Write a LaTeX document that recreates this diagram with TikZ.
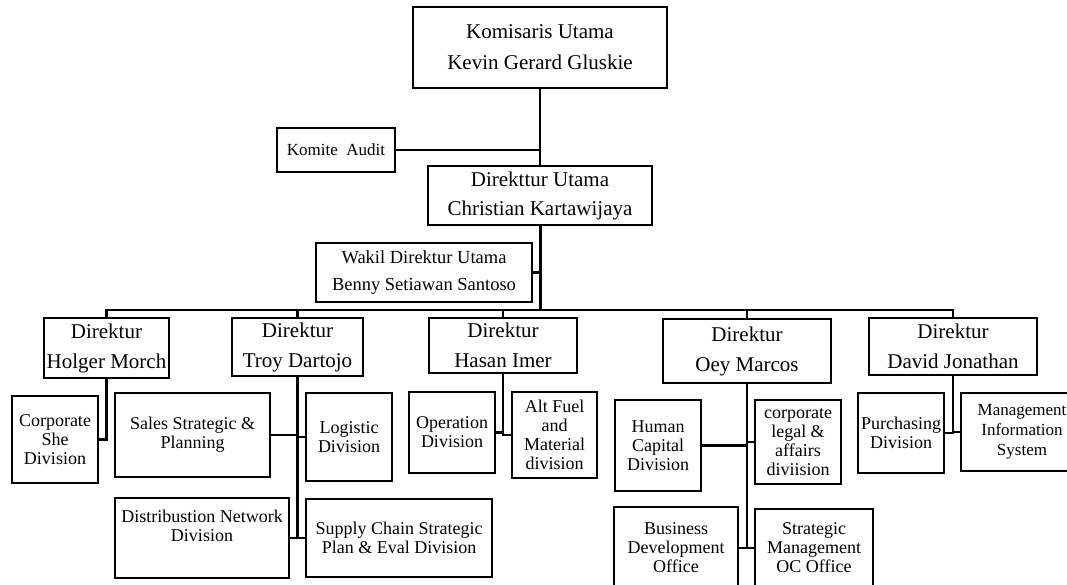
\documentclass[tikz,border=0pt]{standalone}
\usepackage{fontspec}
\setmainfont{Liberation Serif}
\usetikzlibrary{calc,positioning}
\tikzset{
    orgbox/.style 2 args={
        draw, rectangle, line width=2pt,
        minimum width=#1, minimum height=#2,
        inner sep=1pt, align=center, text=black
    }
}

\begin{document}
\begin{tikzpicture}[
      x=1pt, y=-1pt,
  bigtext/.style={font=\fontsize{21}{30}\selectfont},
  divtext/.style={font=\fontsize{18}{19}\selectfont},
  link/.style={line width=2.4pt}
      ]
\useasboundingbox (0,0) rectangle (1067,584);
\clip (0,0) rectangle (1067,584);

% board and top management
\node[orgbox={254}{81}, font=\fontsize{21}{31}\selectfont] (kom) at (540,47.5)
  {Komisaris Utama\\Kevin Gerard Gluskie};
\node[orgbox={118}{44}, font=\fontsize{17}{20}\selectfont] (audit) at (336,150)
  {Komite\ \ Audit};
\node[orgbox={224}{59}, font=\fontsize{21}{29}\selectfont] (dirut) at (540,195.5)
  {Direkttur Utama\\Christian Kartawijaya};
\node[orgbox={216}{59}, font=\fontsize{18.5}{27}\selectfont] (wakil) at (424,272.5)
  {Wakil Direktur Utama\\Benny Setiawan Santoso};
\coordinate (bus) at (540,310);

\draw[link] (kom) -- (dirut);
\draw[link] (audit.east) -- (audit.east -| kom.south);
\draw[line width=3pt] (dirut.south) -- (bus);
\draw[link] (wakil.east) -- (wakil.east -| dirut.south);

% directors
\node[orgbox={125}{60}, bigtext] (hm) at (106.5,348) {Direktur\\Holger Morch};
\node[orgbox={131}{58}, bigtext] (td) at (297.5,347) {Direktur\\Troy Dartojo};
\node[orgbox={148}{55}, bigtext] (hi) at (503,345.5) {Direktur\\Hasan Imer};
\node[orgbox={168}{64}, bigtext] (om) at (747,351) {Direktur\\Oey Marcos};
\node[orgbox={168}{57}, bigtext] (dj) at (953,346.5) {Direktur\\David Jonathan};

\draw[link] (hm.north) |- (bus) -| (dj.north);
\foreach \Dir in {td,hi,om}
  \draw[link] (\Dir.north) -- (\Dir.north |- bus);

% divisions
\node[orgbox={86}{87}, divtext] (cs) at (55,439.5) {Corporate\\She\\Division};
\draw[link] (hm.south) |- (cs.east);

\node[orgbox={155}{84}, divtext] (ss) at (192.5,435) {Sales Strategic \&\\Planning};
\node[orgbox={86}{88}, divtext] (lg) at (349,437) {Logistic\\Division};
\node[orgbox={174}{80}, divtext] (dn) at (202,538) {Distribustion Network\\Division\\\strut};
\node[orgbox={186}{78}, divtext] (sc) at (399,538) {Supply Chain Strategic\\Plan \& Eval Division};
\draw[link] (td.south) |- (sc.west);
\draw[link] (ss.east) -- (ss.east -| td.south);
\draw[link] (lg.west) -- (lg.west -| td.south);
\draw[link] (dn.east) -- (dn.east -| td.south);

\node[orgbox={86}{81}, divtext] (od) at (452,432.5) {Operation\\Division};
\node[orgbox={85}{86}, divtext] (af) at (554.5,435) {Alt Fuel\\and\\Material\\division};
\draw[link] (hi.south) |- (af.west);
\draw[link] (od.east) -- (od.east -| hi.south);

\node[orgbox={86}{91}, divtext] (hc) at (658,445.5) {Human\\Capital\\Division};
\node[orgbox={86}{84}, divtext] (cl) at (798,442) {corporate\\legal \&\\affairs\\diviision};
\node[orgbox={124}{82}, divtext] (bd) at (676,548) {Business\\Development\\Office};
\node[orgbox={118}{78}, divtext] (sm) at (814,548) {Strategic\\Management\\OC Office};
\draw[link] (om.south) |- (sm.west);
\draw[link] (hc.east) -- (hc.east -| om.south);
\draw[link] (cl.west) -- (cl.west -| om.south);
\draw[link] (bd.east) -- (bd.east -| om.south);

\node[orgbox={86}{80}, divtext] (pd) at (901,433) {Purchasing\\Division};
\node[orgbox={122}{78}, font=\fontsize{17}{20}\selectfont] (mis) at (1022,432)
  {Management\\Information\\System};
\draw[link] (dj.south) |- (pd.east);
\draw[link] (mis.west) -- (mis.west -| dj.south);

\end{tikzpicture}
\end{document}
